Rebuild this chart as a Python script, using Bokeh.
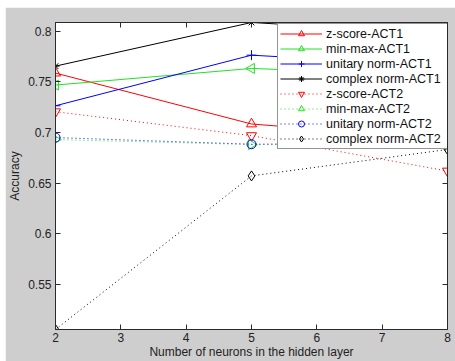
import math
from bokeh.plotting import figure
from bokeh.layouts import column, row
from bokeh.models import (Range1d, FixedTicker, LinearAxis, Legend, LegendItem,
                          CustomLabelingPolicy, Spacer)
from bokeh.embed import file_html
from bokeh.resources import INLINE

neurons = [2, 5, 8]
zscore_act1 = [0.7588, 0.7085, 0.6932]
minmax_act1 = [0.7470, 0.7634, 0.7562]
unitary_act1 = [0.7265, 0.7765, 0.7657]
complex_act1 = [0.7657, 0.8088, 0.7977]
zscore_act2 = [0.7206, 0.6970, 0.6620]
minmax_act2 = [0.6931, 0.6882, 0.6873]
unitary_act2 = [0.6951, 0.6885, 0.6900]
complex_act2 = [0.5054, 0.6572, 0.6833]

labels = ["z-score-ACT1", "min-max-ACT1", "unitary norm-ACT1", "complex norm-ACT1",
          "z-score-ACT2", "min-max-ACT2", "unitary norm-ACT2", "complex norm-ACT2"]

x_ticks = [2, 3, 4, 5, 6, 7, 8]
y_ticks = [0.55, 0.6, 0.65, 0.7, 0.75, 0.8]
y_tick_labels = ["0.55", "0.6", "0.65", "0.7", "0.75", "0.8"]

FONT = "Liberation Sans"
BG = "#cecece"
INK = "#2a2a2a"

p = figure(width=450, height=354, output_backend="svg", toolbar_location=None,
           x_range=Range1d(2, 8), y_range=Range1d(0.5054, 0.8088),
           min_border_left=49, min_border_right=8, min_border_top=15, min_border_bottom=30)
p.border_fill_color = BG
p.background_fill_color = "white"
p.outline_line_color = INK
p.grid.visible = False

def style_axis(ax):
    ax.major_tick_in = 5
    ax.major_tick_out = 0
    ax.minor_tick_line_color = None
    ax.axis_line_color = INK
    ax.major_tick_line_color = INK
    ax.major_label_text_font = FONT
    ax.major_label_text_color = "#222222"
    ax.axis_label_text_font = FONT
    ax.axis_label_text_font_style = "normal"
    ax.axis_label_text_color = "#222222"

xa = p.xaxis[0]
ya = p.yaxis[0]
xa.ticker = FixedTicker(ticks=x_ticks)
ya.ticker = FixedTicker(ticks=y_ticks)
ya.major_label_overrides = dict(zip(y_ticks, y_tick_labels))
style_axis(xa)
style_axis(ya)
xa.axis_label = "Number of neurons in the hidden layer"
ya.axis_label = "Accuracy"
xa.major_label_text_font_size = "12px"
ya.major_label_text_font_size = "12px"
xa.axis_label_text_font_size = "12px"
ya.axis_label_text_font_size = "12px"
xa.major_label_standoff = 3
ya.major_label_standoff = 4
xa.axis_label_standoff = 0
ya.axis_label_standoff = 3

no_labels = CustomLabelingPolicy(
    code="for (const i of Array.from(indices)) { indices.unset(i) } return indices")
top = LinearAxis(ticker=FixedTicker(ticks=x_ticks), major_label_policy=no_labels)
right = LinearAxis(ticker=FixedTicker(ticks=y_ticks), major_label_policy=no_labels)
for ax in (top, right):
    style_axis(ax)
    ax.major_label_text_font_size = "1px"
    ax.major_label_standoff = 0
p.add_layout(top, "above")
p.add_layout(right, "right")

GREEN = "#22e022"
series = [
    (zscore_act1, "#ff0000", "solid", "triangle", 0.0),
    (minmax_act1, GREEN, "solid", "triangle", math.pi / 2),
    (unitary_act1, "#0000ff", "solid", "cross", 0.0),
    (complex_act1, "#000000", "solid", "asterisk", 0.0),
    (zscore_act2, "#ff0000", "1 3", "inverted_triangle", 0.0),
    (minmax_act2, GREEN, "1 3", "triangle", -math.pi / 2),
    (unitary_act2, "#0000ff", "1 3", "circle", 0.0),
    (complex_act2, "#000000", "1 3", "diamond", 0.0),
]

items = []
for (vals, col, dash, marker, ang), lab in zip(series, labels):
    lr = p.line(neurons, vals, line_color=col, line_width=1, line_dash=dash)
    size = 8 if marker == "asterisk" else (9 if marker == "circle" else 10)
    sr = p.scatter(neurons, vals, marker=marker, size=size, angle=ang,
                   line_color=col, fill_color=None, line_width=1)
    items.append(LegendItem(label=lab, renderers=[lr, sr]))

legend = Legend(items=items, location=(222, 180))
legend.label_text_font = FONT
legend.label_text_font_size = "12.5px"
legend.label_text_color = "#111111"
legend.label_height = 15
legend.label_width = 123
legend.glyph_height = 15
legend.glyph_width = 42
legend.label_standoff = 4
legend.spacing = 0
legend.padding = 2
legend.margin = 0
legend.border_line_color = INK
legend.background_fill_color = "white"
legend.background_fill_alpha = 1.0
p.add_layout(legend, "center")

page = column(Spacer(width=455, height=7), row(Spacer(width=5, height=354), p))

open("out.html", "w").write(file_html(page, INLINE))
